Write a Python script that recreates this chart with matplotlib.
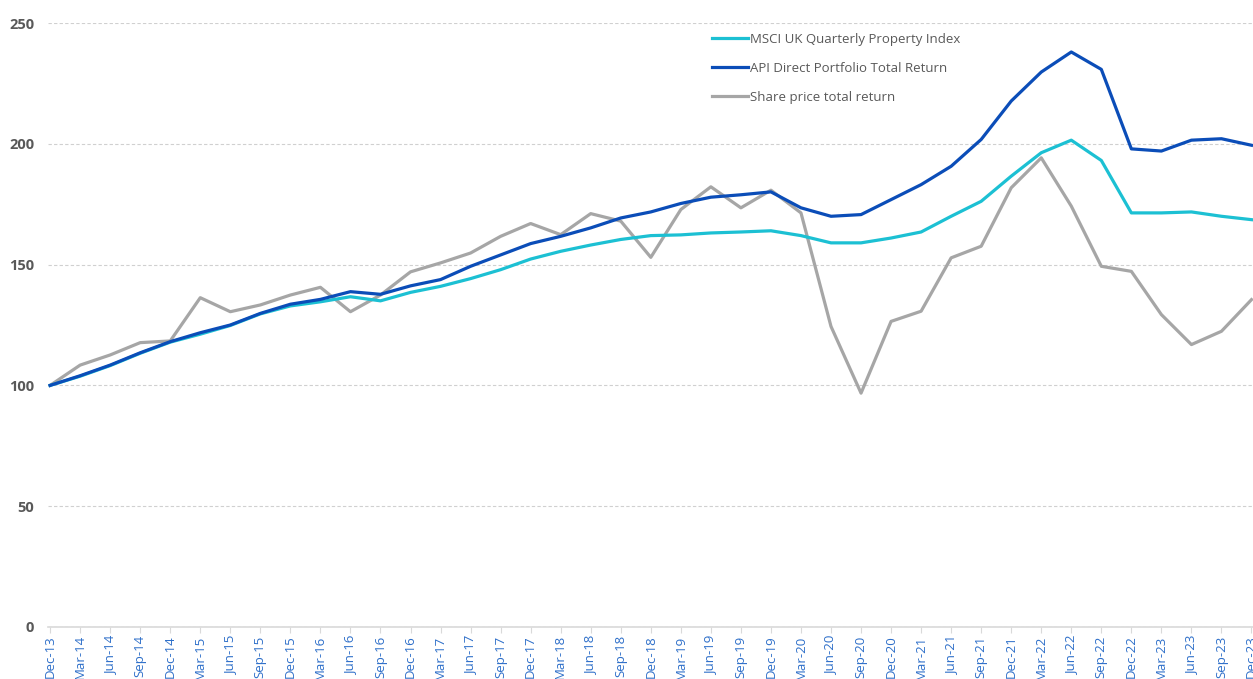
import numpy as np
import matplotlib as mpl
import matplotlib.pyplot as plt

mpl.rcParams.update({
    "font.family": ["Open Sans", "DejaVu Sans"],
    "font.size": 10,
})

# quarterly dates Dec-13 .. Dec-23
quarters = []
for yr in range(13, 24):
    for m in ["Mar", "Jun", "Sep", "Dec"]:
        if (yr == 13 and m != "Dec"):
            continue
        quarters.append(f"{m}-{yr}")
quarters = quarters[:41]

msci = [100, 103.8, 108.2, 113.3, 117.9, 121.2, 124.8, 129.6, 132.9, 134.6,
        136.7, 135.0, 138.5, 141.0, 144.2, 147.9, 152.3, 155.5, 158.1, 160.4,
        162.0, 162.3, 163.1, 163.5, 164.0, 162.0, 159.0, 159.0, 161.0, 163.5,
        170.0, 176.2, 186.6, 196.3, 201.5, 193.1, 171.4, 171.4, 171.8, 170.0,
        168.6]
api = [100, 104.0, 108.4, 113.5, 118.1, 121.8, 125.0, 129.8, 133.6, 135.6,
       138.8, 137.7, 141.2, 143.8, 149.3, 154.0, 158.7, 161.7, 165.2, 169.3,
       171.8, 175.3, 177.9, 178.9, 180.1, 173.5, 170.0, 170.7, 176.9, 183.1,
       190.7, 201.8, 217.7, 229.7, 238.0, 230.8, 197.9, 197.0, 201.5, 202.1,
       199.4]
share = [100, 108.4, 112.6, 117.7, 118.4, 136.3, 130.5, 133.3, 137.4, 140.6,
         130.5, 137.4, 147.0, 150.7, 154.8, 161.7, 167.0, 162.4, 171.1, 168.0,
         153.0, 172.8, 182.2, 173.5, 180.8, 171.4, 124.4, 96.8, 126.5, 130.7,
         152.8, 157.6, 181.8, 194.2, 174.2, 149.3, 147.2, 129.3, 116.9, 122.4,
         135.5]

CYAN = "#1CC0D3"
BLUE = "#0B4DB8"
GREY = "#A6A6A6"
TXT = "#595959"

fig = plt.figure(figsize=(12.53, 6.79), dpi=100)
ax = fig.add_axes([48 / 1253, 1 - 627 / 679, 1 - 48 / 1253, (627 - 23) / 679])

x = np.arange(len(quarters))
ax.plot(x, msci, color=CYAN, lw=2.3, label="MSCI UK Quarterly Property Index", zorder=3)
ax.plot(x, api, color=BLUE, lw=2.3, label="API Direct Portfolio Total Return", zorder=4)
ax.plot(x, share, color=GREY, lw=2.3, label="Share price total return", zorder=2)

ax.set_ylim(0, 250)
ax.set_xlim(-0.07, 40.05)
ax.set_yticks(range(0, 251, 50))
ax.yaxis.grid(True, color="#D0D0D0", lw=0.8, linestyle=(0, (3, 2)))
ax.set_axisbelow(True)
for s in ["top", "right", "left"]:
    ax.spines[s].set_visible(False)
ax.spines["bottom"].set_color("#D9D9D9")
ax.spines["bottom"].set_linewidth(1.2)

ax.set_xticks(x)
ax.set_xticklabels(quarters, rotation=90, color="#2E6FC9", fontsize=9.5)
ax.tick_params(axis="x", length=4, color="#D9D9D9", pad=2)
ax.tick_params(axis="y", length=0, pad=10, labelcolor=TXT, labelsize=10.5)
for t in ax.get_yticklabels():
    t.set_fontweight("bold")

leg = ax.legend(loc="upper left", bbox_to_anchor=(712 / 1253, 1 - 33 / 679),
                bbox_transform=fig.transFigure, frameon=False, fontsize=9.5,
                handlelength=2.7, handletextpad=0.15, labelspacing=1.2,
                borderaxespad=0, borderpad=0)
for t in leg.get_texts():
    t.set_color(TXT)

fig.savefig("out.png", dpi=100)
